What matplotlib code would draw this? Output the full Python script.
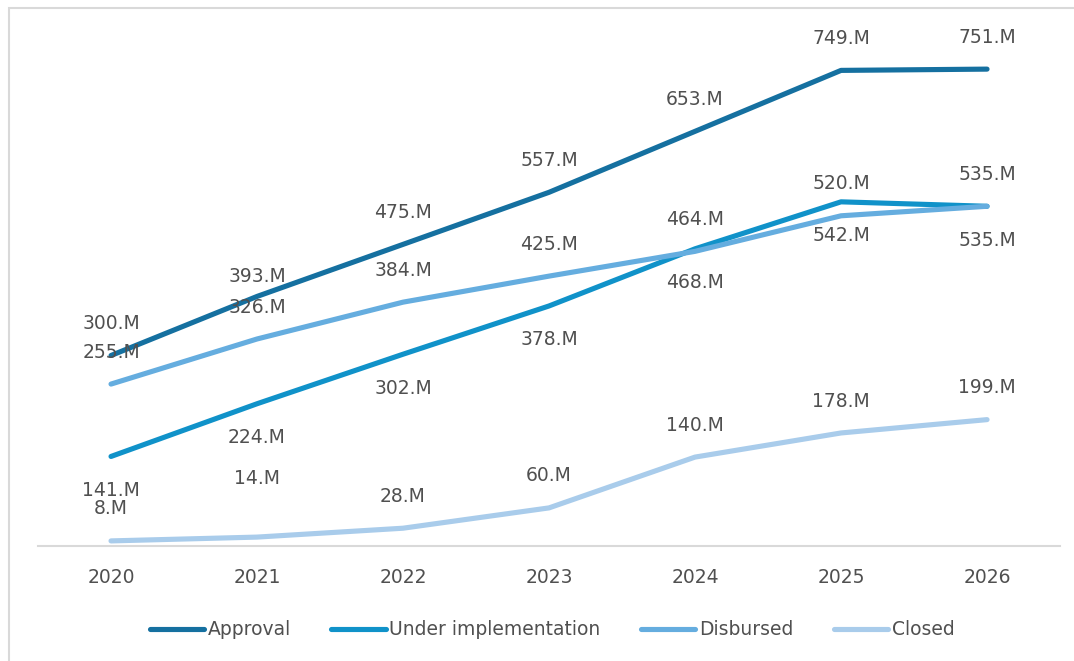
import matplotlib.pyplot as plt
from matplotlib.patches import Rectangle

# dane
years = ["2020", "2021", "2022", "2023", "2024", "2025", "2026"]
approval = [300, 393, 475, 557, 653, 749, 751]
under_impl = [141, 224, 302, 378, 468, 542, 535]
disbursed = [255, 326, 384, 425, 464, 520, 535]
closed = [8, 14, 28, 60, 140, 178, 199]

series = [
    ("Approval", approval, "#1570a0", "above"),
    ("Under implementation", under_impl, "#1092c9", "below"),
    ("Disbursed", disbursed, "#65addf", "above"),
    ("Closed", closed, "#a9cceb", "above"),
]

# przesuniecia etykiet (w punktach), tam gdzie sie nakladaja
nudge = {("Approval", 1): 14, ("Closed", 1): 42}

text_col = "#505050"
plt.rcParams['font.family'] = ['DejaVu Sans']

fig = plt.figure(figsize=(10.74, 6.61), dpi=100)
ax = fig.add_axes([0.0354, 0.174, 0.9516, 0.7685])

# ramka wykresu
fig.patches.append(Rectangle((9 / 1074, -0.1), 1.2, 1 - 8 / 661 + 0.1,
                             transform=fig.transFigure, fill=False,
                             edgecolor="#d9d9d9", linewidth=1.5))

x = range(len(years))
for name, vals, col, side in series:
    ax.plot(x, vals, color=col, linewidth=3.7, solid_capstyle="round",
            solid_joinstyle="round", label=name)
    for i, v in enumerate(vals):
        dy = 23 if side == "above" else -24.5
        dy = nudge.get((name, i), dy)
        ax.annotate(f"{v}.M", (i, v), xytext=(0, dy), textcoords="offset points",
                    ha="center", va="center", fontsize=13.5, color=text_col)

ax.set_xlim(-0.5, 6.5)
ax.set_ylim(0, 800)
ax.set_xticks(list(x))
ax.set_xticklabels(years, fontsize=13.5, color=text_col)
ax.tick_params(axis="x", length=0, pad=16)
ax.set_yticks([])
for s in ["top", "left", "right"]:
    ax.spines[s].set_visible(False)
ax.spines["bottom"].set_color("#d9d9d9")
ax.spines["bottom"].set_linewidth(1.5)

leg = fig.legend(loc="center", bbox_to_anchor=(0.514, 0.047), ncol=4, frameon=False,
                 fontsize=13.5, handlelength=2.9, handletextpad=0.2, columnspacing=2.15)
for t in leg.get_texts():
    t.set_color(text_col)

fig.savefig("out.png", dpi=100)
